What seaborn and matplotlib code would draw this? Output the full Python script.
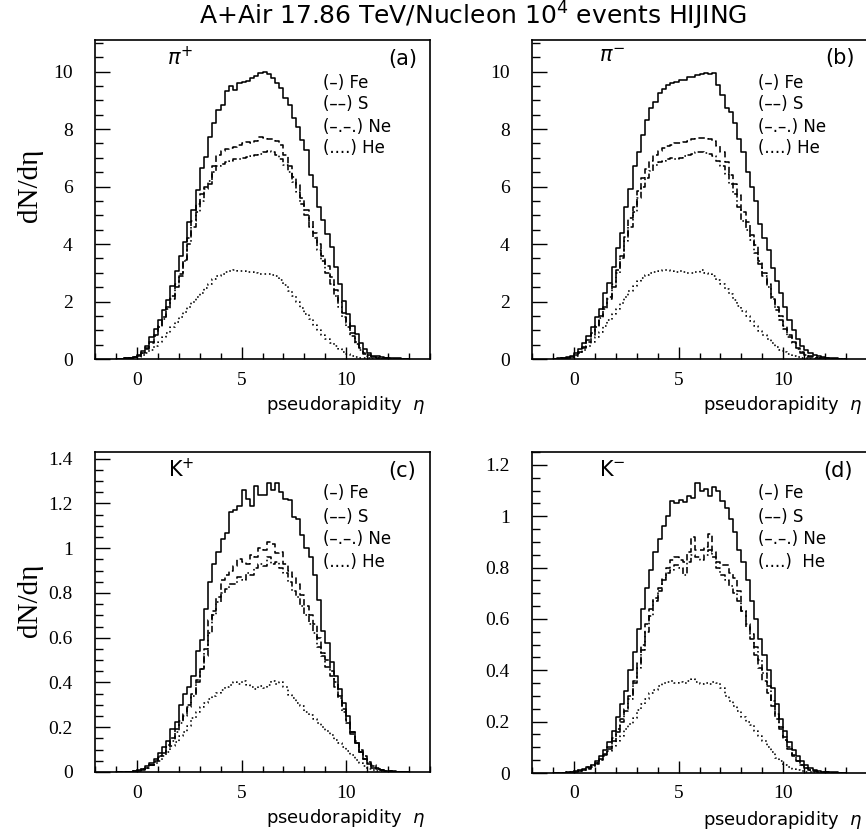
import numpy as np
import pandas as pd
import matplotlib
matplotlib.use("Agg")
import matplotlib.pyplot as plt
import seaborn as sns
from matplotlib.ticker import MultipleLocator, FuncFormatter

# ---------------- data (dN/deta per 0.2 eta bin, bins from -1.0 to 13.0) ----------------
bin_lo, bin_hi, bin_w = -1.0, 13.0, 0.2

pip_fe = [0.00, 0.01, 0.02, 0.04, 0.08, 0.15, 0.28, 0.45, 0.75, 1.05,
          1.35, 1.72, 2.05, 2.55, 3.05, 3.57, 4.07, 4.77, 5.17, 5.87,
          6.65, 7.04, 7.74, 8.20, 8.67, 8.85, 9.31, 9.49, 9.37, 9.60,
          9.64, 9.66, 9.78, 9.84, 9.95, 9.98, 9.90, 9.78, 9.60, 9.43,
          9.08, 8.85, 8.38, 8.09, 7.62, 7.27, 6.40, 5.99, 5.29, 4.83,
          4.36, 3.89, 3.19, 2.61, 2.03, 1.56, 1.15, 0.86, 0.57, 0.34,
          0.22, 0.12, 0.10, 0.06, 0.05, 0.03, 0.02, 0.02, 0.01, 0.00]
pip_s = [0.00, 0.01, 0.02, 0.03, 0.06, 0.12, 0.22, 0.38, 0.60, 0.85,
         1.15, 1.45, 1.80, 2.20, 2.60, 2.95, 3.45, 4.20, 4.80, 5.40,
         5.75, 6.00, 6.10, 6.70, 7.10, 7.25, 7.30, 7.35, 7.38, 7.45,
         7.50, 7.55, 7.52, 7.60, 7.72, 7.68, 7.65, 7.66, 7.60, 7.45,
         7.10, 6.70, 6.35, 6.05, 5.60, 5.20, 4.80, 4.40, 4.00, 3.60,
         3.25, 2.85, 2.40, 2.00, 1.60, 1.25, 0.90, 0.60, 0.38, 0.22,
         0.13, 0.08, 0.05, 0.03, 0.02, 0.02, 0.01, 0.01, 0.00, 0.00]
pip_ne = [0.00, 0.01, 0.02, 0.03, 0.06, 0.11, 0.20, 0.35, 0.55, 0.80,
          1.10, 1.40, 1.75, 2.10, 2.50, 2.90, 3.40, 4.00, 4.60, 5.10,
          5.50, 5.90, 6.20, 6.50, 6.70, 6.80, 6.85, 6.90, 6.95, 6.95,
          7.00, 7.02, 7.05, 7.10, 7.15, 7.20, 7.25, 7.20, 7.10, 6.95,
          6.75, 6.50, 6.15, 5.80, 5.40, 5.00, 4.60, 4.20, 3.80, 3.40,
          3.00, 2.60, 2.20, 1.80, 1.45, 1.10, 0.80, 0.52, 0.32, 0.19,
          0.11, 0.07, 0.04, 0.03, 0.02, 0.01, 0.01, 0.00, 0.00, 0.00]
pip_he = [0.00, 0.00, 0.01, 0.02, 0.04, 0.08, 0.14, 0.22, 0.32, 0.45,
          0.60, 0.75, 0.92, 1.10, 1.30, 1.45, 1.62, 1.80, 1.98, 2.15,
          2.30, 2.48, 2.62, 2.78, 2.88, 2.95, 3.02, 3.06, 3.08, 3.06,
          3.05, 3.04, 3.02, 2.98, 2.96, 2.95, 2.97, 2.94, 2.88, 2.75,
          2.58, 2.38, 2.18, 1.98, 1.78, 1.58, 1.38, 1.18, 1.00, 0.84,
          0.70, 0.57, 0.45, 0.34, 0.25, 0.17, 0.11, 0.07, 0.05, 0.03,
          0.02, 0.01, 0.01, 0.00, 0.00, 0.00, 0.00, 0.00, 0.00, 0.00]

pim_fe = [0.00, 0.02, 0.03, 0.06, 0.12, 0.22, 0.35, 0.55, 0.80, 1.10,
          1.45, 1.75, 2.30, 2.65, 3.20, 3.85, 4.40, 5.30, 5.90, 6.70,
          7.20, 7.80, 8.30, 8.75, 8.95, 9.25, 9.40, 9.55, 9.62, 9.65,
          9.70, 9.72, 9.80, 9.82, 9.88, 9.90, 9.95, 9.92, 9.95, 9.55,
          9.20, 8.75, 8.60, 8.20, 7.65, 7.20, 6.50, 6.00, 5.50, 4.70,
          4.20, 3.80, 3.15, 2.70, 2.30, 1.80, 1.35, 1.00, 0.70, 0.45,
          0.30, 0.20, 0.14, 0.10, 0.07, 0.05, 0.03, 0.02, 0.01, 0.01]
pim_s = [0.00, 0.01, 0.02, 0.04, 0.08, 0.15, 0.26, 0.42, 0.65, 0.90,
         1.20, 1.50, 1.80, 2.15, 2.60, 3.10, 3.60, 4.25, 4.90, 5.30,
         5.85, 6.30, 6.60, 6.90, 7.10, 7.25, 7.35, 7.40, 7.45, 7.50,
         7.52, 7.55, 7.60, 7.65, 7.68, 7.70, 7.68, 7.65, 7.60, 7.40,
         7.20, 6.85, 6.40, 6.10, 5.70, 5.10, 4.75, 4.30, 3.95, 3.40,
         3.00, 2.60, 2.15, 1.80, 1.50, 1.15, 0.85, 0.60, 0.38, 0.25,
         0.15, 0.09, 0.06, 0.04, 0.03, 0.02, 0.01, 0.01, 0.00, 0.00]
pim_ne = [0.00, 0.01, 0.02, 0.04, 0.07, 0.13, 0.24, 0.40, 0.60, 0.85,
          1.12, 1.42, 1.75, 2.10, 2.50, 3.00, 3.50, 4.10, 4.60, 5.10,
          5.60, 6.00, 6.30, 6.55, 6.75, 6.85, 6.90, 6.95, 7.00, 6.95,
          7.00, 7.05, 7.10, 7.15, 7.20, 7.22, 7.18, 7.12, 7.05, 6.90,
          6.70, 6.45, 6.10, 5.75, 5.30, 4.80, 4.50, 4.15, 3.70, 3.30,
          2.90, 2.50, 2.10, 1.70, 1.35, 1.05, 0.78, 0.55, 0.35, 0.22,
          0.13, 0.08, 0.05, 0.03, 0.02, 0.01, 0.01, 0.00, 0.00, 0.00]
pim_he = [0.00, 0.01, 0.02, 0.04, 0.07, 0.12, 0.20, 0.30, 0.45, 0.60,
          0.78, 0.95, 1.15, 1.35, 1.55, 1.75, 1.95, 2.15, 2.35, 2.55,
          2.70, 2.82, 2.92, 2.98, 3.02, 3.05, 3.08, 3.10, 3.05, 3.02,
          3.06, 3.04, 3.00, 2.98, 3.02, 3.10, 3.00, 2.95, 2.88, 2.75,
          2.60, 2.42, 2.25, 2.05, 1.85, 1.68, 1.50, 1.32, 1.15, 0.98,
          0.82, 0.68, 0.55, 0.42, 0.32, 0.23, 0.16, 0.10, 0.06, 0.04,
          0.02, 0.01, 0.01, 0.00, 0.00, 0.00, 0.00, 0.00, 0.00, 0.00]

kp_fe = [0.000, 0.000, 0.000, 0.002, 0.004, 0.008, 0.015, 0.025, 0.040, 0.060,
         0.085, 0.110, 0.140, 0.190, 0.225, 0.300, 0.350, 0.380, 0.430, 0.540,
         0.590, 0.730, 0.850, 0.930, 0.985, 1.040, 1.070, 1.160, 1.170, 1.190,
         1.260, 1.220, 1.190, 1.280, 1.240, 1.240, 1.290, 1.260, 1.290, 1.250,
         1.220, 1.215, 1.140, 1.130, 1.060, 1.000, 0.960, 0.880, 0.770, 0.630,
         0.575, 0.490, 0.430, 0.370, 0.310, 0.250, 0.180, 0.130, 0.090, 0.060,
         0.035, 0.020, 0.012, 0.008, 0.005, 0.004, 0.003, 0.002, 0.001, 0.000]
kp_s = [0.000, 0.000, 0.000, 0.001, 0.003, 0.006, 0.012, 0.020, 0.032, 0.050,
        0.070, 0.090, 0.120, 0.150, 0.190, 0.230, 0.260, 0.300, 0.350, 0.410,
        0.460, 0.520, 0.680, 0.720, 0.780, 0.860, 0.880, 0.900, 0.920, 0.950,
        0.940, 0.930, 0.970, 0.960, 1.000, 0.990, 1.030, 1.020, 0.980, 0.985,
        0.930, 0.900, 0.870, 0.840, 0.790, 0.740, 0.700, 0.660, 0.600, 0.530,
        0.500, 0.450, 0.400, 0.340, 0.280, 0.230, 0.180, 0.140, 0.100, 0.070,
        0.045, 0.030, 0.018, 0.010, 0.006, 0.004, 0.002, 0.001, 0.000, 0.000]
kp_ne = [0.000, 0.000, 0.000, 0.001, 0.003, 0.006, 0.011, 0.018, 0.030, 0.045,
         0.065, 0.085, 0.110, 0.140, 0.180, 0.220, 0.250, 0.290, 0.340, 0.400,
         0.460, 0.550, 0.620, 0.700, 0.760, 0.800, 0.820, 0.840, 0.840, 0.870,
         0.860, 0.890, 0.880, 0.910, 0.930, 0.920, 0.960, 0.930, 0.940, 0.910,
         0.890, 0.850, 0.810, 0.780, 0.740, 0.700, 0.660, 0.620, 0.560, 0.520,
         0.470, 0.430, 0.380, 0.330, 0.270, 0.220, 0.170, 0.130, 0.090, 0.060,
         0.040, 0.025, 0.015, 0.009, 0.005, 0.003, 0.002, 0.001, 0.000, 0.000]
kp_he = [0.000, 0.000, 0.001, 0.002, 0.004, 0.008, 0.014, 0.020, 0.030, 0.040,
         0.050, 0.070, 0.090, 0.115, 0.135, 0.160, 0.180, 0.205, 0.240, 0.270,
         0.290, 0.310, 0.325, 0.340, 0.355, 0.365, 0.380, 0.390, 0.400, 0.395,
         0.405, 0.390, 0.380, 0.370, 0.385, 0.375, 0.390, 0.405, 0.395, 0.400,
         0.380, 0.345, 0.330, 0.310, 0.295, 0.270, 0.255, 0.235, 0.220, 0.200,
         0.185, 0.165, 0.145, 0.130, 0.110, 0.095, 0.075, 0.055, 0.040, 0.025,
         0.015, 0.009, 0.005, 0.003, 0.002, 0.001, 0.000, 0.000, 0.000, 0.000]

km_fe = [0.000, 0.000, 0.001, 0.002, 0.004, 0.007, 0.010, 0.015, 0.022, 0.032,
         0.045, 0.065, 0.090, 0.120, 0.165, 0.220, 0.270, 0.320, 0.400, 0.470,
         0.560, 0.640, 0.720, 0.790, 0.860, 0.910, 0.960, 1.000, 1.060, 1.050,
         1.065, 1.055, 1.080, 1.070, 1.130, 1.100, 1.105, 1.080, 1.115, 1.100,
         1.060, 1.030, 0.990, 0.940, 0.870, 0.820, 0.750, 0.670, 0.600, 0.520,
         0.460, 0.400, 0.330, 0.270, 0.210, 0.165, 0.120, 0.090, 0.065, 0.045,
         0.030, 0.018, 0.012, 0.008, 0.005, 0.004, 0.003, 0.002, 0.001, 0.000]
km_s = [0.000, 0.000, 0.000, 0.001, 0.003, 0.005, 0.008, 0.012, 0.018, 0.026,
        0.038, 0.055, 0.075, 0.100, 0.135, 0.170, 0.210, 0.250, 0.300, 0.360,
        0.430, 0.500, 0.580, 0.640, 0.680, 0.710, 0.760, 0.800, 0.830, 0.840,
        0.830, 0.820, 0.860, 0.920, 0.870, 0.870, 0.880, 0.930, 0.860, 0.820,
        0.810, 0.810, 0.780, 0.760, 0.710, 0.630, 0.570, 0.520, 0.460, 0.410,
        0.360, 0.310, 0.260, 0.210, 0.170, 0.130, 0.095, 0.065, 0.045, 0.030,
        0.020, 0.012, 0.008, 0.005, 0.003, 0.002, 0.001, 0.000, 0.000, 0.000]
km_ne = [0.000, 0.000, 0.000, 0.001, 0.002, 0.004, 0.007, 0.011, 0.017, 0.025,
         0.036, 0.050, 0.070, 0.095, 0.125, 0.160, 0.200, 0.240, 0.290, 0.350,
         0.410, 0.480, 0.550, 0.610, 0.670, 0.720, 0.750, 0.780, 0.790, 0.810,
         0.800, 0.770, 0.820, 0.850, 0.840, 0.830, 0.850, 0.870, 0.840, 0.800,
         0.770, 0.750, 0.730, 0.700, 0.670, 0.630, 0.580, 0.540, 0.490, 0.440,
         0.390, 0.340, 0.280, 0.230, 0.180, 0.140, 0.100, 0.070, 0.048, 0.032,
         0.020, 0.013, 0.008, 0.005, 0.003, 0.002, 0.001, 0.000, 0.000, 0.000]
km_he = [0.000, 0.000, 0.001, 0.002, 0.004, 0.007, 0.011, 0.016, 0.022, 0.030,
         0.040, 0.050, 0.065, 0.085, 0.105, 0.125, 0.145, 0.170, 0.190, 0.215,
         0.245, 0.270, 0.290, 0.310, 0.325, 0.340, 0.350, 0.355, 0.360, 0.350,
         0.355, 0.350, 0.360, 0.365, 0.355, 0.345, 0.350, 0.345, 0.355, 0.350,
         0.330, 0.300, 0.280, 0.260, 0.240, 0.220, 0.200, 0.185, 0.165, 0.145,
         0.125, 0.100, 0.080, 0.060, 0.045, 0.033, 0.023, 0.016, 0.010, 0.006,
         0.004, 0.002, 0.001, 0.000, 0.000, 0.000, 0.000, 0.000, 0.000, 0.000]

panel_tags = ["(a)", "(b)", "(c)", "(d)"]
particles = [r"$\pi^{+}$", r"$\pi^{-}$", r"K$^{+}$", r"K$^{-}$"]
nuclei_labels = ["(\u2013) Fe", "(\u2013\u2013) S", "(\u2013.\u2013.) Ne", "(....) He"]
title_text = "A+Air 17.86 TeV/Nucleon 10$^{4}$ events HIJING"
xlabel_text = r"pseudorapidity  $\eta$"
ylabel_text = "dN/d\u03b7"

panels = [
    [pip_fe, pip_s, pip_ne, pip_he],
    [pim_fe, pim_s, pim_ne, pim_he],
    [kp_fe, kp_s, kp_ne, kp_he],
    [km_fe, km_s, km_ne, km_he],
]

# ---------------- styling ----------------
sns.set_theme(style="white")
plt.rcParams["font.family"] = ["DejaVu Sans"]
plt.rcParams["mathtext.fontset"] = "dejavusans"

n_bins = int(round((bin_hi - bin_lo) / bin_w))
centers = bin_lo + bin_w * (np.arange(n_bins) + 0.5)
styles = ["-", (0, (4.0, 2.2)), (0, (4.0, 1.6, 1.0, 1.6)), (0, (1.0, 1.8))]

fig = plt.figure(figsize=(8.66, 8.31), dpi=100)
W, H = 866.0, 831.0
boxes = [(95, 40, 335, 319), (532, 40, 335, 319), (95, 452, 335, 320), (532, 452, 335, 321)]
ylims = [11.1, 11.1, 1.43, 1.25]
ymaj = [2, 2, 0.2, 0.2]
ymin = [0.5, 0.5, 0.05, 0.05]
tag_pos = [(0.918, 0.94), (0.919, 0.943), (0.918, 0.94), (0.913, 0.94)]
part_pos = [(0.255, 0.944), (0.24, 0.95), (0.257, 0.944), (0.239, 0.944)]
leg_x = [0.68, 0.675, 0.68, 0.675]
leg_y = [[0.865, 0.80, 0.728, 0.66], [0.865, 0.80, 0.728, 0.66],
         [0.872, 0.797, 0.728, 0.656], [0.872, 0.797, 0.728, 0.656]]

serif = "Liberation Serif"
for i, (l, t, w, h) in enumerate(boxes):
    ax = fig.add_axes([l / W, 1 - (t + h) / H, w / W, h / H])
    ax.set_facecolor("white")
    for j, vals in enumerate(panels[i]):
        df = pd.DataFrame({"eta": centers, "dndeta": np.asarray(vals, dtype=float)})
        n_before = len(ax.lines)
        sns.histplot(data=df, x="eta", weights="dndeta", binwidth=bin_w,
                     binrange=(bin_lo, bin_hi), element="step", fill=False,
                     color="black", linewidth=1.15, ax=ax)
        for ln in ax.lines[n_before:]:
            ln.set_linestyle(styles[j])
    ax.set_xlabel("")
    ax.set_ylabel("")
    ax.set_xlim(-2, 14)
    ax.set_ylim(0, ylims[i])
    ax.xaxis.set_major_locator(MultipleLocator(5))
    ax.xaxis.set_minor_locator(MultipleLocator(1))
    ax.yaxis.set_major_locator(MultipleLocator(ymaj[i]))
    ax.yaxis.set_minor_locator(MultipleLocator(ymin[i]))
    ax.yaxis.set_major_formatter(FuncFormatter(lambda v, p: "%g" % round(v, 3)))
    ax.xaxis.set_major_formatter(FuncFormatter(lambda v, p: "%g" % round(v, 3)))
    ax.tick_params(which="both", direction="in", top=False, right=False,
                   bottom=True, left=True, color="black", width=1.0)
    ax.tick_params(axis="y", which="major", length=11, pad=16)
    ax.tick_params(axis="y", which="minor", length=5.5)
    ax.tick_params(axis="x", which="major", length=8.5, pad=9)
    ax.tick_params(axis="x", which="minor", length=4.3)
    for lab in ax.get_xticklabels() + ax.get_yticklabels():
        lab.set_fontfamily(serif)
        lab.set_fontsize(14)
        lab.set_color("black")
    for sp in ax.spines.values():
        sp.set_visible(True)
        sp.set_color("black")
        sp.set_linewidth(1.2)
    ax.text(tag_pos[i][0], tag_pos[i][1], panel_tags[i], transform=ax.transAxes,
            ha="center", va="center", fontsize=15, color="black")
    ax.text(part_pos[i][0], part_pos[i][1], particles[i], transform=ax.transAxes,
            ha="center", va="center", fontsize=15, color="black")
    for k, lab in enumerate(nuclei_labels):
        txt = lab if not (i == 3 and k == 3) else "(....)  He"
        ax.text(leg_x[i], leg_y[i][k], txt, transform=ax.transAxes,
                ha="left", va="center", fontsize=12, color="black")
    ax.text(0.985, -0.145, xlabel_text, transform=ax.transAxes,
            ha="right", va="center", fontsize=13, color="black", clip_on=False)

fig.text(473 / W, 1 - 16 / H, title_text, ha="center", va="center", fontsize=18, color="black")
fig.text(30 / W, 1 - 185 / H, ylabel_text, rotation=90, ha="center", va="center",
         fontsize=21, family=serif, color="black")
fig.text(30 / W, 1 - 600 / H, ylabel_text, rotation=90, ha="center", va="center",
         fontsize=21, family=serif, color="black")

fig.savefig("out.png", dpi=100, facecolor="white")
